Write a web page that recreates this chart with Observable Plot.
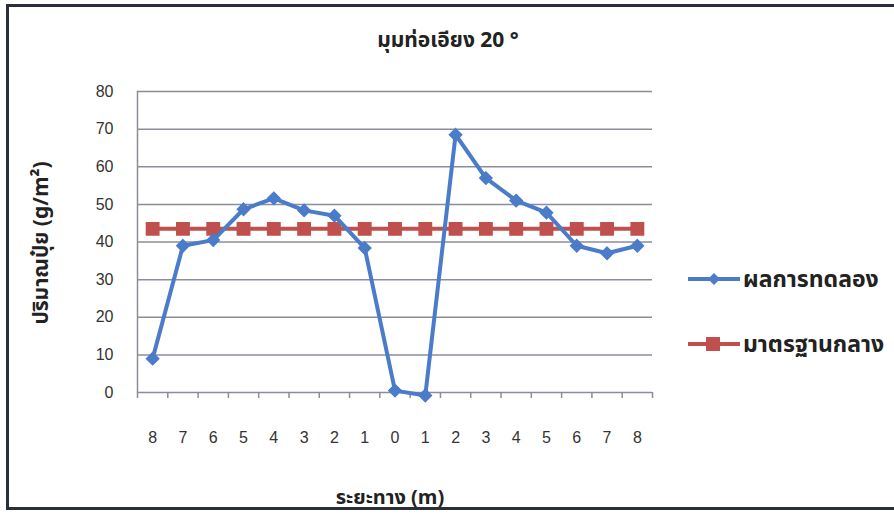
<!DOCTYPE html>
<html>
<head>
<meta charset="utf-8">
<script src="https://cdn.jsdelivr.net/npm/d3@7"></script>
<script src="https://cdn.jsdelivr.net/npm/@observablehq/plot@0.6"></script>
<style>
  html, body { margin: 0; padding: 0; background: #fff; }
  svg { display: block; }
</style>
</head>
<body>
<div id="chart"></div>
<script>
const distanceLabels = ["8","7","6","5","4","3","2","1","0","1","2","3","4","5","6","7","8"];
const experimentValues = [9, 39, 40.5, 48.7, 51.6, 48.4, 47, 38.4, 0.5, -0.8, 68.5, 57, 51, 47.8, 39, 37, 39];
const standardValues = [43.5,43.5,43.5,43.5,43.5,43.5,43.5,43.5,43.5,43.5,43.5,43.5,43.5,43.5,43.5,43.5,43.5];
const yTicks = [0,10,20,30,40,50,60,70,80];
const seriesNames = ["ผลการทดลอง", "มาตรฐานกลาง"];
const titleText = "มุมท่อเอียง 20 °";
const yLabel = "ปริมาณปุ๋ย (g/m²)";
const xLabel = "ระยะทาง (m)";

const blue = "#4a7cc9";
const red = "#c0504d";
const grid = "#8c8c9a";
const thaiFont = "'Noto Sans Thai', 'Noto Sans', 'DejaVu Sans', sans-serif";

const expData = experimentValues.map((v, i) => ({x: i + 0.5, y: v}));
const stdData = standardValues.map((v, i) => ({x: i + 0.5, y: v}));

const W = 894, H = 514;
const plot = Plot.plot({
  width: W,
  height: H,
  marginLeft: 137,
  marginRight: 242,
  marginTop: 91,
  marginBottom: 122,
  style: {background: "#fff", fontFamily: "'Liberation Sans', Arial, sans-serif"},
  x: {type: "linear", domain: [0, 17]},
  y: {domain: [0, 80]},
  marks: [
    Plot.ruleY(yTicks, {stroke: grid, strokeWidth: 1.5}),
    Plot.ruleX([0], {stroke: grid, strokeWidth: 1.5}),
    Plot.axisY(yTicks, {tickSize: 0, tickPadding: 24, fontSize: 16, fill: "#333", label: null}),
    Plot.axisX(d3.range(18), {tickSize: 6, stroke: grid, strokeWidth: 1.5, tickFormat: () => "", label: null}),
    Plot.axisX(d3.range(17).map(i => i + 0.5), {tickSize: 0, tickPadding: 39, fontSize: 16, fill: "#333",
      tickFormat: d => distanceLabels[Math.round(d - 0.5)], label: null}),
    Plot.line(stdData, {x: "x", y: "y", stroke: red, strokeWidth: 4}),
    Plot.dot(stdData, {x: "x", y: "y", symbol: "square", r: 7, fill: red, stroke: red}),
    Plot.line(expData, {x: "x", y: "y", stroke: blue, strokeWidth: 4}),
    Plot.dot(expData, {x: "x", y: "y", symbol: "diamond2", r: 5.5, fill: blue, stroke: blue}),
  ]
});
document.getElementById("chart").appendChild(plot);

const svg = d3.select(plot);
// outer frame
svg.append("path")
  .attr("d", `M ${W+5} 5.5 L 7.5 5.5 L 7.5 508.5 L ${W+5} 508.5`)
  .attr("fill", "none").attr("stroke", "#2b2f3a").attr("stroke-width", 3);
// title
svg.append("text").text(titleText)
  .attr("x", 448).attr("y", 47).attr("text-anchor", "middle")
  .attr("font-family", thaiFont).attr("font-weight", "bold").attr("font-size", 21).attr("fill", "#222");
// y label
svg.append("text").text(yLabel)
  .attr("transform", "translate(48,243) rotate(-90)").attr("text-anchor", "middle")
  .attr("font-family", thaiFont).attr("font-weight", "bold").attr("font-size", 21).attr("fill", "#222");
// x label
svg.append("text").text(xLabel)
  .attr("x", 390).attr("y", 504).attr("text-anchor", "middle")
  .attr("font-family", thaiFont).attr("font-weight", "bold").attr("font-size", 20).attr("fill", "#222");
// legend
const legend = [
  {name: seriesNames[0], color: blue, y: 279, sym: "diamond"},
  {name: seriesNames[1], color: red, y: 344, sym: "square"}
];
legend.forEach(l => {
  svg.append("line").attr("x1", 688).attr("x2", 740).attr("y1", l.y).attr("y2", l.y)
    .attr("stroke", l.color).attr("stroke-width", 4);
  if (l.sym === "square") {
    svg.append("rect").attr("x", 706).attr("y", l.y - 7).attr("width", 14).attr("height", 14).attr("fill", l.color);
  } else {
    svg.append("path").attr("d", `M 714 ${l.y-6} L 720 ${l.y} L 714 ${l.y+6} L 708 ${l.y} Z`).attr("fill", l.color);
  }
  svg.append("text").text(l.name).attr("x", 743).attr("y", l.y + 8).attr("text-anchor", "start")
    .attr("font-family", thaiFont).attr("font-weight", "bold").attr("font-size", 23).attr("fill", "#222");
});
</script>
</body>
</html>
